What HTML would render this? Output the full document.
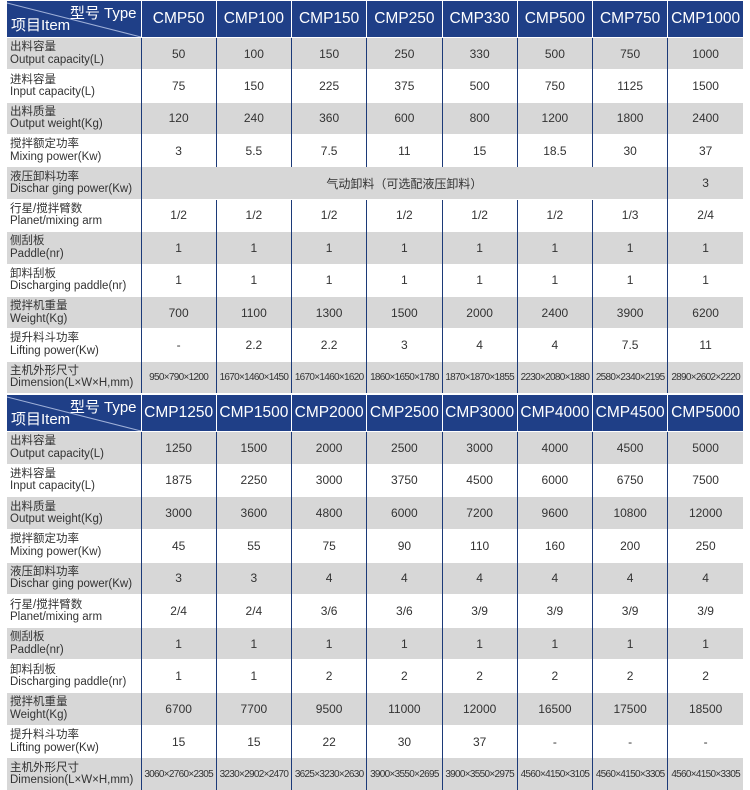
<!DOCTYPE html>
<html><head><meta charset="utf-8">
<style>
body{margin:0;width:750px;height:790px;background:#fff;position:relative;overflow:hidden;font-family:"Liberation Sans","Noto Sans CJK SC",sans-serif;}
table{position:absolute;left:7px;width:736px;border-collapse:collapse;table-layout:fixed;}
td,th{padding:0;text-align:center;color:#333;font-size:12px;border-left:1.5px solid #1c3a78;border-top:1px solid #fff;font-weight:normal;}
td:first-child,th:first-child{border-left:none;}
th{background:#1f3f87;color:#fff;font-size:15.5px;height:36px;border-left:1.5px solid #fff;}
tr.g td{background:#d7d7d7;}
td.l{text-align:left;padding-left:3px;font-size:11.5px;line-height:12.5px;color:#333;}
td.d{font-size:10px;letter-spacing:-0.7px;white-space:nowrap;}
.hd{position:relative;text-align:left;}
.hd svg{position:absolute;left:0;top:0;}
.hd .t{position:absolute;right:4px;top:1px;font-size:15px;}
.hd .b{position:absolute;left:4px;bottom:2px;font-size:15px;}
</style></head><body>
<table style="top:0;height:393px">
<colgroup><col style="width:134px"><col span="8" style="width:75.25px"></colgroup>
<tr><th class="hd"><svg width="134" height="36"><line x1="0" y1="2" x2="134" y2="36" stroke="#9fb0d8" stroke-width="1"/></svg><span class="t">型号 Type</span><span class="b">项目Item</span></th><th>CMP50</th><th>CMP100</th><th>CMP150</th><th>CMP250</th><th>CMP330</th><th>CMP500</th><th>CMP750</th><th>CMP1000</th></tr>
<tr class="g"><td class="l">出料容量<br>Output capacity(L)</td><td>50</td><td>100</td><td>150</td><td>250</td><td>330</td><td>500</td><td>750</td><td>1000</td></tr>
<tr><td class="l">进料容量<br>Input capacity(L)</td><td>75</td><td>150</td><td>225</td><td>375</td><td>500</td><td>750</td><td>1125</td><td>1500</td></tr>
<tr class="g"><td class="l">出料质量<br>Output weight(Kg)</td><td>120</td><td>240</td><td>360</td><td>600</td><td>800</td><td>1200</td><td>1800</td><td>2400</td></tr>
<tr><td class="l">搅拌额定功率<br>Mixing power(Kw)</td><td>3</td><td>5.5</td><td>7.5</td><td>11</td><td>15</td><td>18.5</td><td>30</td><td>37</td></tr>
<tr class="g"><td class="l">液压卸料功率<br>Dischar ging power(Kw)</td><td colspan="7">气动卸料（可选配液压卸料）</td><td>3</td></tr>
<tr><td class="l">行星/搅拌臂数<br>Planet/mixing arm</td><td>1/2</td><td>1/2</td><td>1/2</td><td>1/2</td><td>1/2</td><td>1/2</td><td>1/3</td><td>2/4</td></tr>
<tr class="g"><td class="l">侧刮板<br>Paddle(nr)</td><td>1</td><td>1</td><td>1</td><td>1</td><td>1</td><td>1</td><td>1</td><td>1</td></tr>
<tr><td class="l">卸料刮板<br>Discharging paddle(nr)</td><td>1</td><td>1</td><td>1</td><td>1</td><td>1</td><td>1</td><td>1</td><td>1</td></tr>
<tr class="g"><td class="l">搅拌机重量<br>Weight(Kg)</td><td>700</td><td>1100</td><td>1300</td><td>1500</td><td>2000</td><td>2400</td><td>3900</td><td>6200</td></tr>
<tr><td class="l">提升料斗功率<br>Lifting power(Kw)</td><td>-</td><td>2.2</td><td>2.2</td><td>3</td><td>4</td><td>4</td><td>7.5</td><td>11</td></tr>
<tr class="g"><td class="l">主机外形尺寸<br>Dimension(L×W×H,mm)</td><td class="d">950×790×1200</td><td class="d">1670×1460×1450</td><td class="d">1670×1460×1620</td><td class="d">1860×1650×1780</td><td class="d">1870×1870×1855</td><td class="d">2230×2080×1880</td><td class="d">2580×2340×2195</td><td class="d">2890×2602×2220</td></tr>
</table>
<table style="top:394px;height:396px">
<colgroup><col style="width:134px"><col span="8" style="width:75.25px"></colgroup>
<tr><th class="hd"><svg width="134" height="36"><line x1="0" y1="2" x2="134" y2="36" stroke="#9fb0d8" stroke-width="1"/></svg><span class="t">型号 Type</span><span class="b">项目Item</span></th><th>CMP1250</th><th>CMP1500</th><th>CMP2000</th><th>CMP2500</th><th>CMP3000</th><th>CMP4000</th><th>CMP4500</th><th>CMP5000</th></tr>
<tr class="g"><td class="l">出料容量<br>Output capacity(L)</td><td>1250</td><td>1500</td><td>2000</td><td>2500</td><td>3000</td><td>4000</td><td>4500</td><td>5000</td></tr>
<tr><td class="l">进料容量<br>Input capacity(L)</td><td>1875</td><td>2250</td><td>3000</td><td>3750</td><td>4500</td><td>6000</td><td>6750</td><td>7500</td></tr>
<tr class="g"><td class="l">出料质量<br>Output weight(Kg)</td><td>3000</td><td>3600</td><td>4800</td><td>6000</td><td>7200</td><td>9600</td><td>10800</td><td>12000</td></tr>
<tr><td class="l">搅拌额定功率<br>Mixing power(Kw)</td><td>45</td><td>55</td><td>75</td><td>90</td><td>110</td><td>160</td><td>200</td><td>250</td></tr>
<tr class="g"><td class="l">液压卸料功率<br>Dischar ging power(Kw)</td><td>3</td><td>3</td><td>4</td><td>4</td><td>4</td><td>4</td><td>4</td><td>4</td></tr>
<tr><td class="l">行星/搅拌臂数<br>Planet/mixing arm</td><td>2/4</td><td>2/4</td><td>3/6</td><td>3/6</td><td>3/9</td><td>3/9</td><td>3/9</td><td>3/9</td></tr>
<tr class="g"><td class="l">侧刮板<br>Paddle(nr)</td><td>1</td><td>1</td><td>1</td><td>1</td><td>1</td><td>1</td><td>1</td><td>1</td></tr>
<tr><td class="l">卸料刮板<br>Discharging paddle(nr)</td><td>1</td><td>1</td><td>2</td><td>2</td><td>2</td><td>2</td><td>2</td><td>2</td></tr>
<tr class="g"><td class="l">搅拌机重量<br>Weight(Kg)</td><td>6700</td><td>7700</td><td>9500</td><td>11000</td><td>12000</td><td>16500</td><td>17500</td><td>18500</td></tr>
<tr><td class="l">提升料斗功率<br>Lifting power(Kw)</td><td>15</td><td>15</td><td>22</td><td>30</td><td>37</td><td>-</td><td>-</td><td>-</td></tr>
<tr class="g"><td class="l">主机外形尺寸<br>Dimension(L×W×H,mm)</td><td class="d">3060×2760×2305</td><td class="d">3230×2902×2470</td><td class="d">3625×3230×2630</td><td class="d">3900×3550×2695</td><td class="d">3900×3550×2975</td><td class="d">4560×4150×3105</td><td class="d">4560×4150×3305</td><td class="d">4560×4150×3305</td></tr>
</table>
</body></html>
